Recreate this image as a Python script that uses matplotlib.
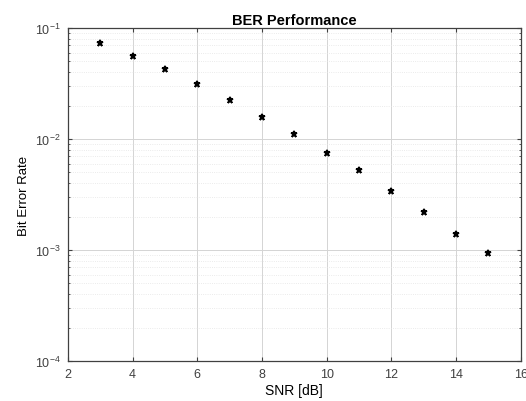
import matplotlib
matplotlib.use("Agg")
import matplotlib.pyplot as plt
from matplotlib.ticker import LogLocator, FixedLocator

snr_db = [3, 4, 5, 6, 7, 8, 9, 10, 11, 12, 13, 14, 15]
ber = [0.0733, 0.056, 0.0427, 0.0313, 0.0224, 0.0158, 0.0111,
       0.0075, 0.0052, 0.0034, 0.0022, 0.0014, 0.00093]
x_ticks = [2, 4, 6, 8, 10, 12, 14, 16]

plt.rcParams['font.family'] = ['Liberation Sans', 'DejaVu Sans']

fig = plt.figure(figsize=(5.26, 4.02), dpi=100)
ax = fig.add_axes([0.129, 0.0995, 0.861, 0.8285])

ax.semilogy(snr_db, ber, linestyle='none', marker='*', color='black',
            markersize=5, markeredgewidth=1.2)

ax.set_xlim(2, 16)
ax.set_ylim(1e-4, 1e-1)
ax.xaxis.set_major_locator(FixedLocator(x_ticks))
ax.yaxis.set_major_locator(LogLocator(base=10))
ax.yaxis.set_minor_locator(LogLocator(base=10, subs=range(2, 10)))

ax.grid(True, which='major', color='#d4d4d4', linewidth=0.7)
ax.grid(True, which='minor', color='#e4e4e4', linewidth=0.6, linestyle=':')
ax.set_axisbelow(True)

for s in ax.spines.values():
    s.set_color('#404040')
    s.set_linewidth(0.9)
ax.tick_params(which='both', direction='in', top=True, right=True,
               colors='#404040', labelsize=9, pad=5)
ax.tick_params(which='major', length=3)
ax.tick_params(which='minor', length=1.5)

ax.set_title('BER Performance', fontsize=10.5, fontweight='bold', pad=3)
ax.set_xlabel('SNR [dB]', fontsize=10, labelpad=2)
ax.set_ylabel('Bit Error Rate', fontsize=9.5, labelpad=4)

fig.savefig('out.png', dpi=100)
